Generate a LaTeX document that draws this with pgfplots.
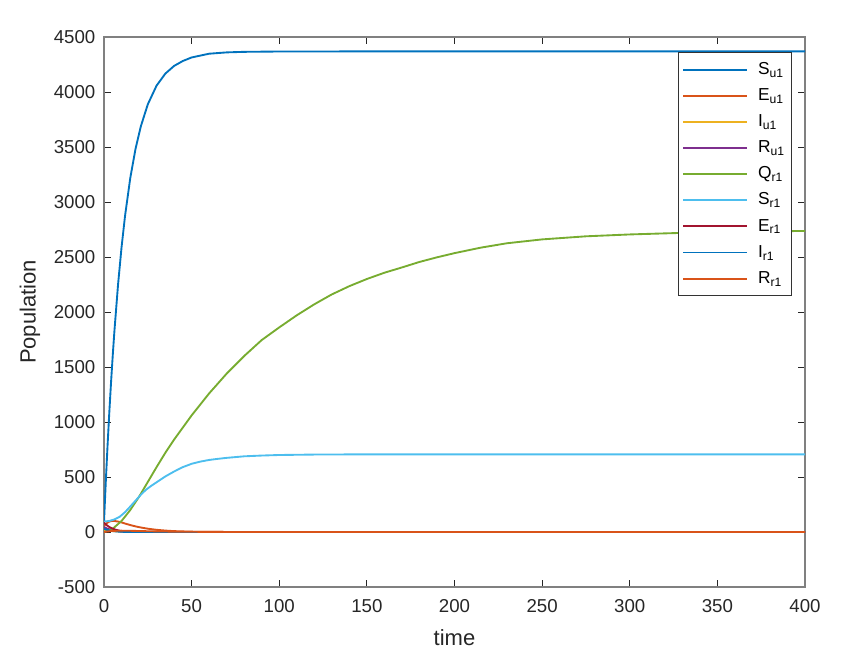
\documentclass[border=0pt]{standalone}
\usepackage{fontspec}
\setmainfont{Liberation Sans}
\usepackage{pgfplots}
\pgfplotsset{compat=1.18}

\definecolor{mblue}{HTML}{0072BD}
\definecolor{morange}{HTML}{D95319}
\definecolor{myellow}{HTML}{EDB120}
\definecolor{mpurple}{HTML}{7E2F8E}
\definecolor{mgreen}{HTML}{77AC30}
\definecolor{mcyan}{HTML}{4DBEEE}
\definecolor{mred}{HTML}{A2142F}

\begin{document}
\begin{tikzpicture}
\begin{axis}[
    scale only axis,
    width=525.75pt, height=412.5pt,
    xmin=0, xmax=400, ymin=-500, ymax=4500,
    xtick={0,50,...,400},
    ytick={-500,0,...,4500},
    scaled ticks=false,
    /pgf/number format/1000 sep={},
    /pgf/number format/assume math mode=true,
    tick align=inside,
    major tick length=5pt,
    tick style={black!85, line width=0.6pt},
    axis line style={black!50, line width=1pt},
    ticklabel style={font=\fontsize{14}{16}\selectfont, text=black!85},
    xticklabel style={yshift=-6pt},
    yticklabel style={xshift=-3pt},
    xlabel={time}, ylabel={Population},
    label style={font=\fontsize{16.5}{18}\selectfont, text=black!85},
    x label style={at={(axis description cs:0.5,-0.0927)}, anchor=center},
    y label style={at={(axis description cs:-0.1056,0.5)}, anchor=center},
    every axis plot/.append style={line width=1.4pt},
    legend cell align=left,
    legend image code/.code={\draw[#1, line width=1.4pt] (0pt,0pt) -- (48pt,0pt); \path[draw=none] (0pt,0pt) -- (54pt,0pt);},
    legend style={at={(1,1)}, anchor=north east, xshift=-9.75pt, yshift=-11.25pt,
        draw=black!80, line width=0.8pt, fill=white,
        font=\fontsize{13}{15}\selectfont,
        inner xsep=3pt, inner ysep=3pt, row sep=0pt,
        nodes={text height=10pt, text depth=3pt, inner ysep=3.3pt}},
]
% S_u1
\addplot[mblue] coordinates {(0,90) (1,449) (2,778) (3,1079) (4,1355) (5,1608) (6,1839) (8,2246) (10,2586) (12,2873) (15,3219) (18,3484) (21,3687) (25,3888) (30,4058) (35,4167) (40,4237) (45,4282) (50,4314) (60,4348) (70,4360) (80,4365) (100,4368) (150,4369) (400,4369)};
% E_u1
\addplot[morange] coordinates {(0,55) (1,72) (2,85) (3,94) (4,99) (5,101) (6,100) (8,95) (10,87) (12,77) (15,63) (18,51) (21,41) (25,30) (30,20) (35,13) (40,8) (50,3) (60,1) (80,0) (400,0)};
% I_u1
\addplot[myellow] coordinates {(0,20) (2,14) (5,8) (10,3) (15,1) (25,0) (400,0)};
% R_u1
\addplot[mpurple] coordinates {(0,45) (2,30) (4,20) (6,12) (10,5) (15,2) (25,0) (400,0)};
% Q_r1
\addplot[mgreen] coordinates {(0,0) (5,30) (10,100) (15,200) (20,320) (25,455) (30,590) (35,720) (40,840) (45,950) (50,1060) (55,1160) (60,1260) (70,1440) (80,1600) (90,1745) (100,1860) (110,1970) (120,2070) (130,2160) (140,2235) (150,2300) (160,2357) (170,2405) (180,2455) (190,2497) (200,2535) (215,2585) (230,2625) (250,2660) (275,2688) (300,2705) (325,2717) (350,2726) (375,2732) (400,2737)};
% S_r1
\addplot[mcyan] coordinates {(0,95) (3,100) (6,115) (9,139) (12,180) (15,232) (18,285) (21,338) (24,385) (27,420) (30,452) (35,505) (40,550) (45,590) (50,620) (55,640) (60,655) (65,665) (70,674) (80,688) (90,695) (100,700) (120,704) (150,706) (400,706)};
% E_r1
\addplot[mred] coordinates {(0,85) (1,70) (2,57) (3,46) (4,37) (6,24) (8,15) (10,9) (13,4) (18,1) (30,0) (400,0)};
% I_r1
\addplot[mblue] coordinates {(0,30) (2,18) (4,10) (7,5) (10,2) (15,0) (400,0)};
% R_r1
\addplot[morange] coordinates {(0,0) (2,5) (5,10) (10,12) (15,11) (25,7) (40,3) (60,1) (80,0) (400,0)};
\legend{S\textsubscript{u1}, E\textsubscript{u1}, I\textsubscript{u1}, R\textsubscript{u1}, Q\textsubscript{r1}, S\textsubscript{r1}, E\textsubscript{r1}, I\textsubscript{r1}, R\textsubscript{r1}}
\end{axis}
\path ([xshift=-78pt,yshift=-45.75pt]current axis.south west) rectangle ([xshift=42pt,yshift=27.75pt]current axis.north east);
\end{tikzpicture}
\end{document}
